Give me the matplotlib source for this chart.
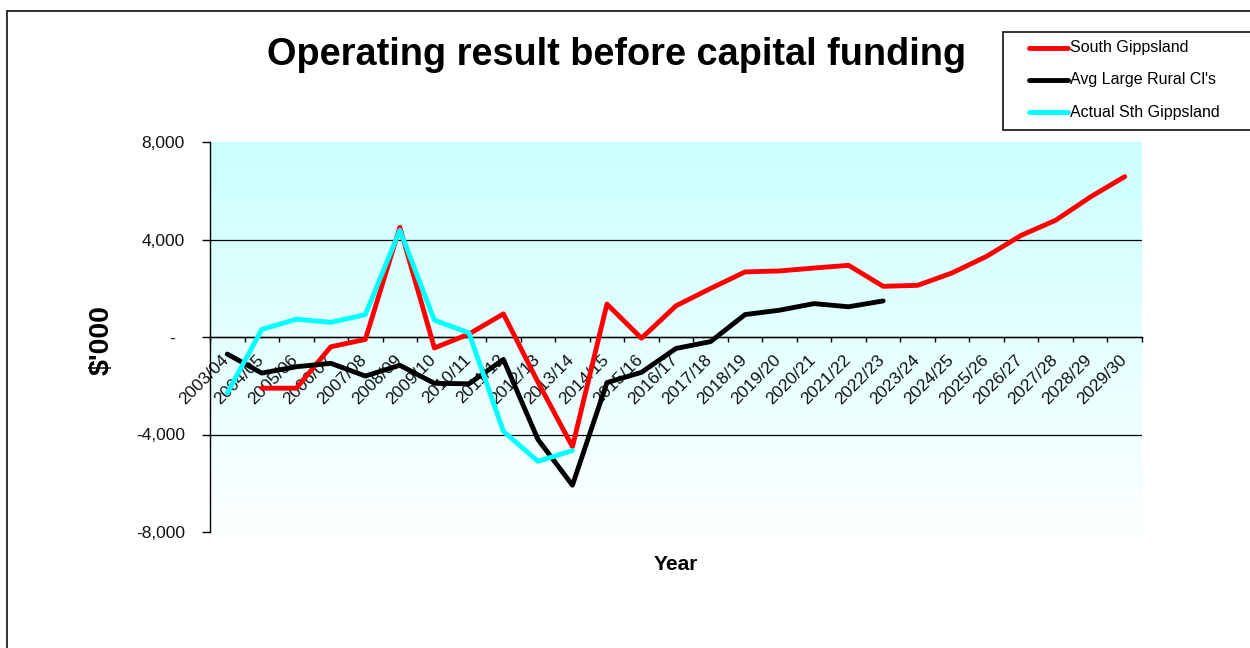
import numpy as np
import matplotlib
matplotlib.use("Agg")
import matplotlib.pyplot as plt
import matplotlib.transforms as mtransforms
from matplotlib.patches import Rectangle
from matplotlib.lines import Line2D

plt.rcParams['font.family'] = ['Liberation Sans', 'DejaVu Sans']

nan = np.nan
years = ['2003/04', '2004/05', '2005/06', '2006/07', '2007/08', '2008/09', '2009/10',
         '2010/11', '2011/12', '2012/13', '2013/14', '2014/15', '2015/16', '2016/17',
         '2017/18', '2018/19', '2019/20', '2020/21', '2021/22', '2022/23', '2023/24',
         '2024/25', '2025/26', '2026/27', '2027/28', '2028/29', '2029/30']

south_gippsland = [nan, -2100, -2100, -400, -100, 4500, -450, 120, 950, -1850, -4500,
                   1350, -50, 1280, 1990, 2670, 2710, 2830, 2940, 2080, 2120, 2630,
                   3310, 4170, 4790, 5740, 6580]
avg_large_rural = [-700, -1480, -1220, -1080, -1600, -1160, -1900, -1920, -920, -4200,
                   -6080, -1870, -1450, -470, -190, 920, 1100, 1370, 1240, 1480,
                   nan, nan, nan, nan, nan, nan, nan]
actual_sth_gippsland = [-2300, 310, 730, 600, 920, 4380, 690, 170, -3870, -5100, -4660,
                        nan, nan, nan, nan, nan, nan, nan, nan, nan, nan, nan, nan, nan,
                        nan, nan, nan]

series_names = ['South Gippsland', "Avg Large Rural Cl's", 'Actual Sth Gippsland']
series_colors = ['#FF0000', '#000000', '#00FFFF']
yticks = [-8000, -4000, 0, 4000, 8000]
ytick_labels = ['-8,000', '-4,000', '-  ', '4,000', '8,000']

W, H = 1250, 648
fig = plt.figure(figsize=(W / 100, H / 100), dpi=100)

def fx(px):
    return px / W

def fy(py):
    return 1 - py / H

# outer chart frame
fig.add_artist(Rectangle((fx(7), fy(660)), fx(1260) - fx(7), fy(11) - fy(660),
                         transform=fig.transFigure, fill=False, edgecolor='#222222',
                         linewidth=1.3))

ax = fig.add_axes([fx(210), fy(532), fx(1142) - fx(210), fy(142) - fy(532)])
x = np.arange(len(years))

# gradient background
grad = np.linspace(0, 1, 256).reshape(-1, 1)
top = np.array([0xCC, 0xFF, 0xFF]) / 255
bot = np.array([0xFC, 0xFF, 0xFF]) / 255
img = top[None, None, :] * (1 - grad[:, :, None]) + bot[None, None, :] * grad[:, :, None]
ax.imshow(img, extent=[0, 1, 0, 1], transform=ax.transAxes, aspect='auto', zorder=0)
ax.add_patch(Rectangle((0, 0), 1, 1, transform=ax.transAxes, fill=False,
                       edgecolor='#C8FFFF', linewidth=1.0, zorder=0.5))

for vals, c in zip([south_gippsland, avg_large_rural, actual_sth_gippsland], series_colors):
    ax.plot(x, vals, color=c, linewidth=3.5, solid_joinstyle='round',
            solid_capstyle='round', zorder=3)

ax.set_xlim(-0.5, len(years) - 0.5)
ax.set_ylim(-8000, 8000)

for s in ['top', 'right']:
    ax.spines[s].set_visible(False)
ax.spines['bottom'].set_position(('data', 0))
ax.spines['bottom'].set_linewidth(1.0)
ax.spines['left'].set_linewidth(1.0)
ax.spines['bottom'].set_zorder(2)

ax.set_yticks(yticks)
ax.set_yticklabels(ytick_labels, fontsize=12.5, color='#111111')
ax.tick_params(axis='y', direction='out', length=6, width=1, pad=12)
ax.yaxis.grid(True, color='black', linewidth=0.9)
ax.set_axisbelow(True)
for gl, v in zip(ax.get_ygridlines(), yticks):
    if abs(v) == 8000:
        gl.set_visible(False)

ax.set_xticks(x)
ax.set_xticklabels(years, fontsize=12.5, rotation=45, ha='right', va='top',
                   rotation_mode='anchor', color='#111111')
ax.set_xticks(np.arange(-0.5, len(years), 1), minor=True)
ax.tick_params(axis='x', which='major', length=0, pad=11)
ax.tick_params(axis='x', which='minor', direction='out', length=3.6, width=1)
offset = mtransforms.ScaledTranslation(-6 / 100, 0, fig.dpi_scale_trans)
for lab in ax.get_xticklabels():
    lab.set_transform(lab.get_transform() + offset)

# titles
fig.text(fx(617), fy(55), 'Operating result before capital funding', fontsize=27.3,
         fontweight='bold', ha='center', va='center')
fig.text(fx(102), fy(340), "$'000", fontsize=20.5, fontweight='bold', rotation=90,
         ha='center', va='center')
fig.text(fx(676), fy(564), 'Year', fontsize=15, fontweight='bold', ha='center',
         va='center')

# legend
fig.add_artist(Rectangle((fx(1003), fy(130)), fx(1262) - fx(1003), fy(32) - fy(130),
                         transform=fig.transFigure, fill=True, facecolor='white',
                         edgecolor='#222222', linewidth=1.3))
for i, (name, c) in enumerate(zip(series_names, series_colors)):
    yy = 47.5 + i * 32.3
    fig.add_artist(Line2D([fx(1029), fx(1068)], [fy(yy), fy(yy)], color=c,
                          linewidth=3.5, solid_capstyle='round',
                          transform=fig.transFigure))
    fig.text(fx(1070), fy(yy), name, fontsize=11.5, ha='left', va='center')

fig.savefig('out.png', dpi=100)
